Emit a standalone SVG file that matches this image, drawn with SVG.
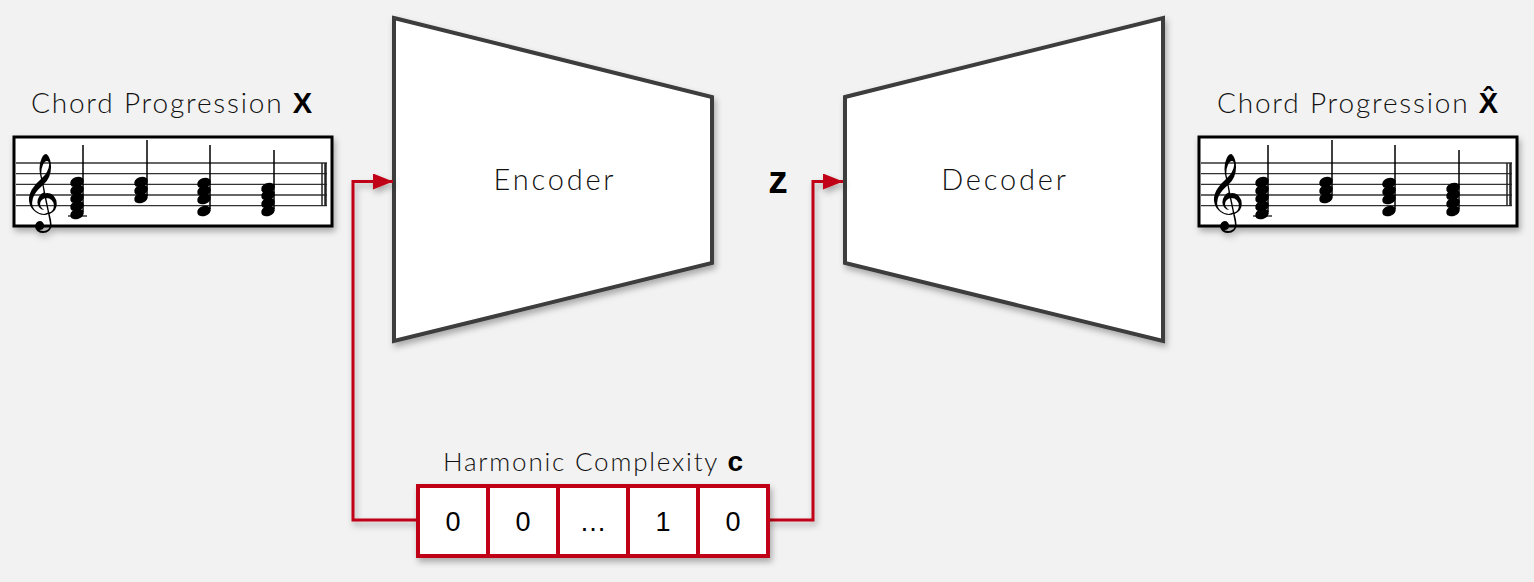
<svg xmlns="http://www.w3.org/2000/svg" width="1534" height="582" viewBox="0 0 1534 582">
<defs>
<filter id="sh" x="-10%" y="-10%" width="130%" height="140%">
<feDropShadow dx="2" dy="4" stdDeviation="3" flood-color="#000" flood-opacity="0.3"/>
</filter>
<marker id="ah" viewBox="0 0 20 16" refX="20" refY="8" markerWidth="20" markerHeight="16" markerUnits="userSpaceOnUse" orient="auto">
<path d="M0,0 L20,8 L0,16 Z" fill="#c00014"/>
</marker>
<g id="staff">
<rect x="14" y="137" width="318" height="89" fill="#fff" stroke="#000" stroke-width="3"/>
<g stroke="#333" stroke-width="1.3">
<line x1="16" y1="163" x2="327" y2="163"/>
<line x1="16" y1="173.7" x2="327" y2="173.7"/>
<line x1="16" y1="184.3" x2="327" y2="184.3"/>
<line x1="16" y1="195" x2="327" y2="195"/>
<line x1="16" y1="205.7" x2="327" y2="205.7"/>
<line x1="322" y1="163" x2="322" y2="205.7" stroke="#222" stroke-width="1.5"/>
<line x1="325.5" y1="163" x2="325.5" y2="205.7" stroke="#222" stroke-width="2.5"/>
<line x1="68" y1="216" x2="87" y2="216" stroke-width="1.5"/>
</g>
<text x="21" y="214" font-family="DejaVu Sans, Noto Sans, sans-serif" font-size="66" fill="#000">𝄞</text>
<g fill="#000">
<g transform="translate(77,0)">
<ellipse cx="0" cy="214" rx="7" ry="5" transform="rotate(-20 0 214)"/>
<ellipse cx="0" cy="206" rx="7" ry="5" transform="rotate(-20 0 206)"/>
<ellipse cx="0" cy="198" rx="7" ry="5" transform="rotate(-20 0 198)"/>
<ellipse cx="0" cy="190" rx="7" ry="5" transform="rotate(-20 0 190)"/>
<ellipse cx="0" cy="182" rx="7" ry="5" transform="rotate(-20 0 182)"/>
<line x1="6" y1="145" x2="6" y2="212" stroke="#000" stroke-width="1.5"/>
</g>
<g transform="translate(141,0)">
<ellipse cx="0" cy="198" rx="7" ry="5" transform="rotate(-20 0 198)"/>
<ellipse cx="0" cy="190" rx="7" ry="5" transform="rotate(-20 0 190)"/>
<ellipse cx="0" cy="182" rx="7" ry="5" transform="rotate(-20 0 182)"/>
<line x1="6" y1="140" x2="6" y2="196" stroke="#000" stroke-width="1.5"/>
</g>
<g transform="translate(204,0)">
<ellipse cx="0" cy="211" rx="7" ry="5" transform="rotate(-20 0 211)"/>
<ellipse cx="0" cy="199" rx="7" ry="5" transform="rotate(-20 0 199)"/>
<ellipse cx="0" cy="191" rx="7" ry="5" transform="rotate(-20 0 191)"/>
<ellipse cx="0" cy="183" rx="7" ry="5" transform="rotate(-20 0 183)"/>
<line x1="6" y1="145" x2="6" y2="209" stroke="#000" stroke-width="1.5"/>
</g>
<g transform="translate(268,0)">
<ellipse cx="0" cy="211" rx="7" ry="5" transform="rotate(-20 0 211)"/>
<ellipse cx="0" cy="203" rx="7" ry="5" transform="rotate(-20 0 203)"/>
<ellipse cx="0" cy="195" rx="7" ry="5" transform="rotate(-20 0 195)"/>
<ellipse cx="0" cy="188" rx="7" ry="5" transform="rotate(-20 0 188)"/>
<line x1="6" y1="150" x2="6" y2="209" stroke="#000" stroke-width="1.5"/>
</g>
</g>
</g>
</defs>
<style>
.lbl{font-family:"Lato","Open Sans",sans-serif;font-weight:300;fill:#111}
.bold{font-family:"Liberation Sans",Arial,sans-serif;font-weight:bold;fill:#000;letter-spacing:0}
.trap{fill:#fff;stroke:#3c3c3c;stroke-width:4;stroke-linejoin:miter}
.cell{fill:#fff;stroke:#c00014;stroke-width:4}
.num{font-family:"Liberation Sans",Arial,sans-serif;font-size:27px;fill:#000;text-anchor:middle}
.conn{fill:none;stroke:#c00014;stroke-width:3}
</style>
<rect width="1534" height="582" fill="#f2f2f2"/>

<g id="input">
<text class="lbl" x="31" y="113" font-size="28" letter-spacing="1.8">Chord Progression <tspan class="bold" font-size="29">X</tspan></text>
<use href="#staff" filter="url(#sh)"/>
</g>

<g id="output">
<text class="lbl" x="1217" y="113" font-size="28" letter-spacing="1.8">Chord Progression <tspan class="bold" font-size="29">X̂</tspan></text>
<use href="#staff" transform="translate(1185,0)" filter="url(#sh)"/>
</g>

<g id="encoder">
<polygon class="trap" points="394,18 712,97 712,263 394,341" filter="url(#sh)"/>
<text class="lbl" x="555" y="190" font-size="29" letter-spacing="2.8" text-anchor="middle">Encoder</text>
</g>

<g id="latent">
<text class="bold" x="778" y="193" font-size="39" text-anchor="middle">z</text>
</g>

<g id="decoder">
<polygon class="trap" points="845,97 1163,18 1163,341 845,263" filter="url(#sh)"/>
<text class="lbl" x="1005" y="190" font-size="29" letter-spacing="2.8" text-anchor="middle">Decoder</text>
</g>

<g id="connectors">
<polyline class="conn" points="418,520 353,520 353,181.5 393,181.5" marker-end="url(#ah)" filter="url(#sh)"/>
<polyline class="conn" points="768,520 813,520 813,181.5 843,181.5" marker-end="url(#ah)" filter="url(#sh)"/>
</g>

<g id="condition">
<text class="lbl" x="443" y="471" font-size="26" letter-spacing="1.8">Harmonic Complexity <tspan class="bold" font-size="28">c</tspan></text>
<g filter="url(#sh)">
<rect class="cell" x="418" y="486" width="70" height="70"/>
<rect class="cell" x="488" y="486" width="70" height="70"/>
<rect class="cell" x="558" y="486" width="70" height="70"/>
<rect class="cell" x="628" y="486" width="70" height="70"/>
<rect class="cell" x="698" y="486" width="70" height="70"/>
</g>
<text class="num" x="453" y="531">0</text>
<text class="num" x="523" y="531">0</text>
<text class="num" x="593" y="531">…</text>
<text class="num" x="663" y="531">1</text>
<text class="num" x="733" y="531">0</text>
</g>
</svg>
